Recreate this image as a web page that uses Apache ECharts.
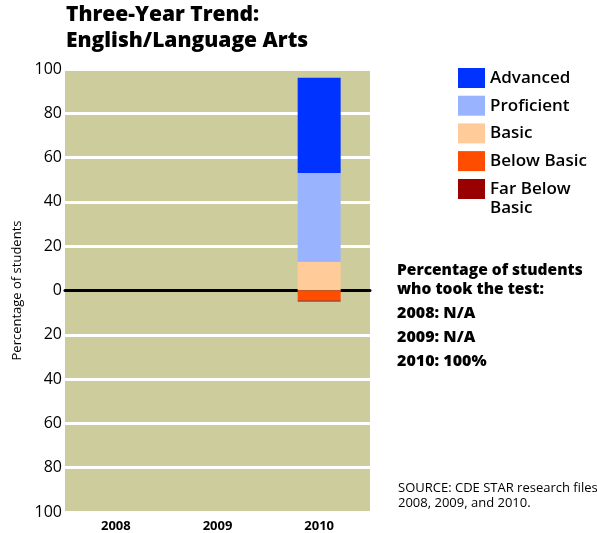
<!DOCTYPE html>
<html>
<head>
<meta charset="utf-8">
<script src="https://cdn.jsdelivr.net/npm/echarts@6/dist/echarts.min.js"></script>
<style>
html,body{margin:0;padding:0;background:#fff;}
#chart{width:597px;height:533px;}
</style>
</head>
<body>
<div id="chart"></div>
<script>
const categories = ['2008', '2009', '2010'];
const advanced = [null, null, 43];
const proficient = [null, null, 40];
const basic = [null, null, 13];
const belowBasic = [null, null, 4.5];
const farBelowBasic = [null, null, 0.5];
const yTicks = { min: -100, max: 100, interval: 20 };
const testedLines = ['2008: N/A', '2009: N/A', '2010: 100%'];

const FONT = '"Open Sans", "Noto Sans", sans-serif';
const chart = echarts.init(document.getElementById('chart'), null, { renderer: 'canvas' });

const neg = a => a.map(v => v == null ? null : -v);
const barW = 43;
const legendText = { fontFamily: FONT, fontSize: 17, fontWeight: 600, color: '#000', lineHeight: 19 };

chart.setOption({
  animation: false,
  backgroundColor: '#ffffff',
  title: {
    text: 'Three-Year Trend:\nEnglish/Language Arts',
    left: 66, top: 2, padding: 0,
    textStyle: { fontFamily: FONT, fontSize: 21, fontWeight: 800, color: '#000', lineHeight: 26 }
  },
  legend: [
    {
      orient: 'vertical',
      left: 458, top: 68, padding: 0,
      itemWidth: 27, itemHeight: 20, itemGap: 7.7,
      icon: 'rect',
      data: ['Advanced', 'Proficient', 'Basic', 'Below Basic'],
      textStyle: legendText
    },
    {
      orient: 'vertical',
      left: 458, top: 160.5, padding: 0,
      itemWidth: 27, itemHeight: 20,
      icon: 'rect',
      data: ['Far Below Basic'],
      // leading empty line keeps the first text line level with the swatch
      formatter: n => '\n' + n.replace('Far Below ', 'Far Below\n'),
      textStyle: legendText
    }
  ],
  grid: {
    left: 65, right: 227, top: 69, bottom: 21,
    show: true, backgroundColor: '#CDCC9C', borderWidth: 0
  },
  xAxis: [
    {
      type: 'category', data: categories, position: 'bottom',
      axisLine: { show: false, onZero: false }, axisTick: { show: false },
      axisLabel: { fontFamily: FONT, fontSize: 13, fontWeight: 700, color: '#000', margin: 8 }
    },
    {
      type: 'category', data: categories, position: 'bottom', z: 3,
      axisLine: { show: true, onZero: true, lineStyle: { color: '#000', width: 3 } },
      axisTick: { show: false }, axisLabel: { show: false }
    }
  ],
  yAxis: {
    type: 'value', min: yTicks.min, max: yTicks.max, interval: yTicks.interval,
    name: 'Percentage of students', nameLocation: 'middle', nameGap: 41,
    nameTextStyle: { fontFamily: FONT, fontSize: 13, color: '#000' },
    axisLine: { show: false }, axisTick: { show: false },
    axisLabel: {
      fontFamily: FONT, fontSize: 16, color: '#000', margin: 3,
      padding: [7, 0, 0, 0],
      formatter: v => String(Math.abs(v))
    },
    splitLine: { show: true, lineStyle: { color: '#ffffff', width: 3 } }
  },
  series: [
    { name: 'Basic', type: 'bar', stack: 'pct', barWidth: barW, z: 4, data: basic, itemStyle: { color: '#FFCC99' } },
    { name: 'Proficient', type: 'bar', stack: 'pct', barWidth: barW, z: 4, data: proficient, itemStyle: { color: '#99B3FF' } },
    { name: 'Advanced', type: 'bar', stack: 'pct', barWidth: barW, z: 4, data: advanced, itemStyle: { color: '#0033FF' } },
    { name: 'Below Basic', type: 'bar', stack: 'pct', barWidth: barW, z: 4, data: neg(belowBasic), itemStyle: { color: '#FF4D00' } },
    { name: 'Far Below Basic', type: 'bar', stack: 'pct', barWidth: barW, z: 4, data: neg(farBelowBasic), itemStyle: { color: '#990000' } }
  ],
  graphic: [
    {
      type: 'text', left: 397, top: 261,
      style: {
        text: 'Percentage of students\nwho took the test:',
        font: '800 15.5px ' + FONT, fill: '#000', lineHeight: 19
      }
    },
    {
      type: 'text', left: 397, top: 301,
      style: { text: testedLines.join('\n'), font: '800 16px ' + FONT, fill: '#000', lineHeight: 24 }
    },
    {
      type: 'text', left: 398, top: 481,
      style: {
        text: 'SOURCE: CDE STAR research files\n2008, 2009, and 2010.',
        font: '400 13px ' + FONT, fill: '#000', lineHeight: 15
      }
    }
  ]
});
</script>
</body>
</html>
